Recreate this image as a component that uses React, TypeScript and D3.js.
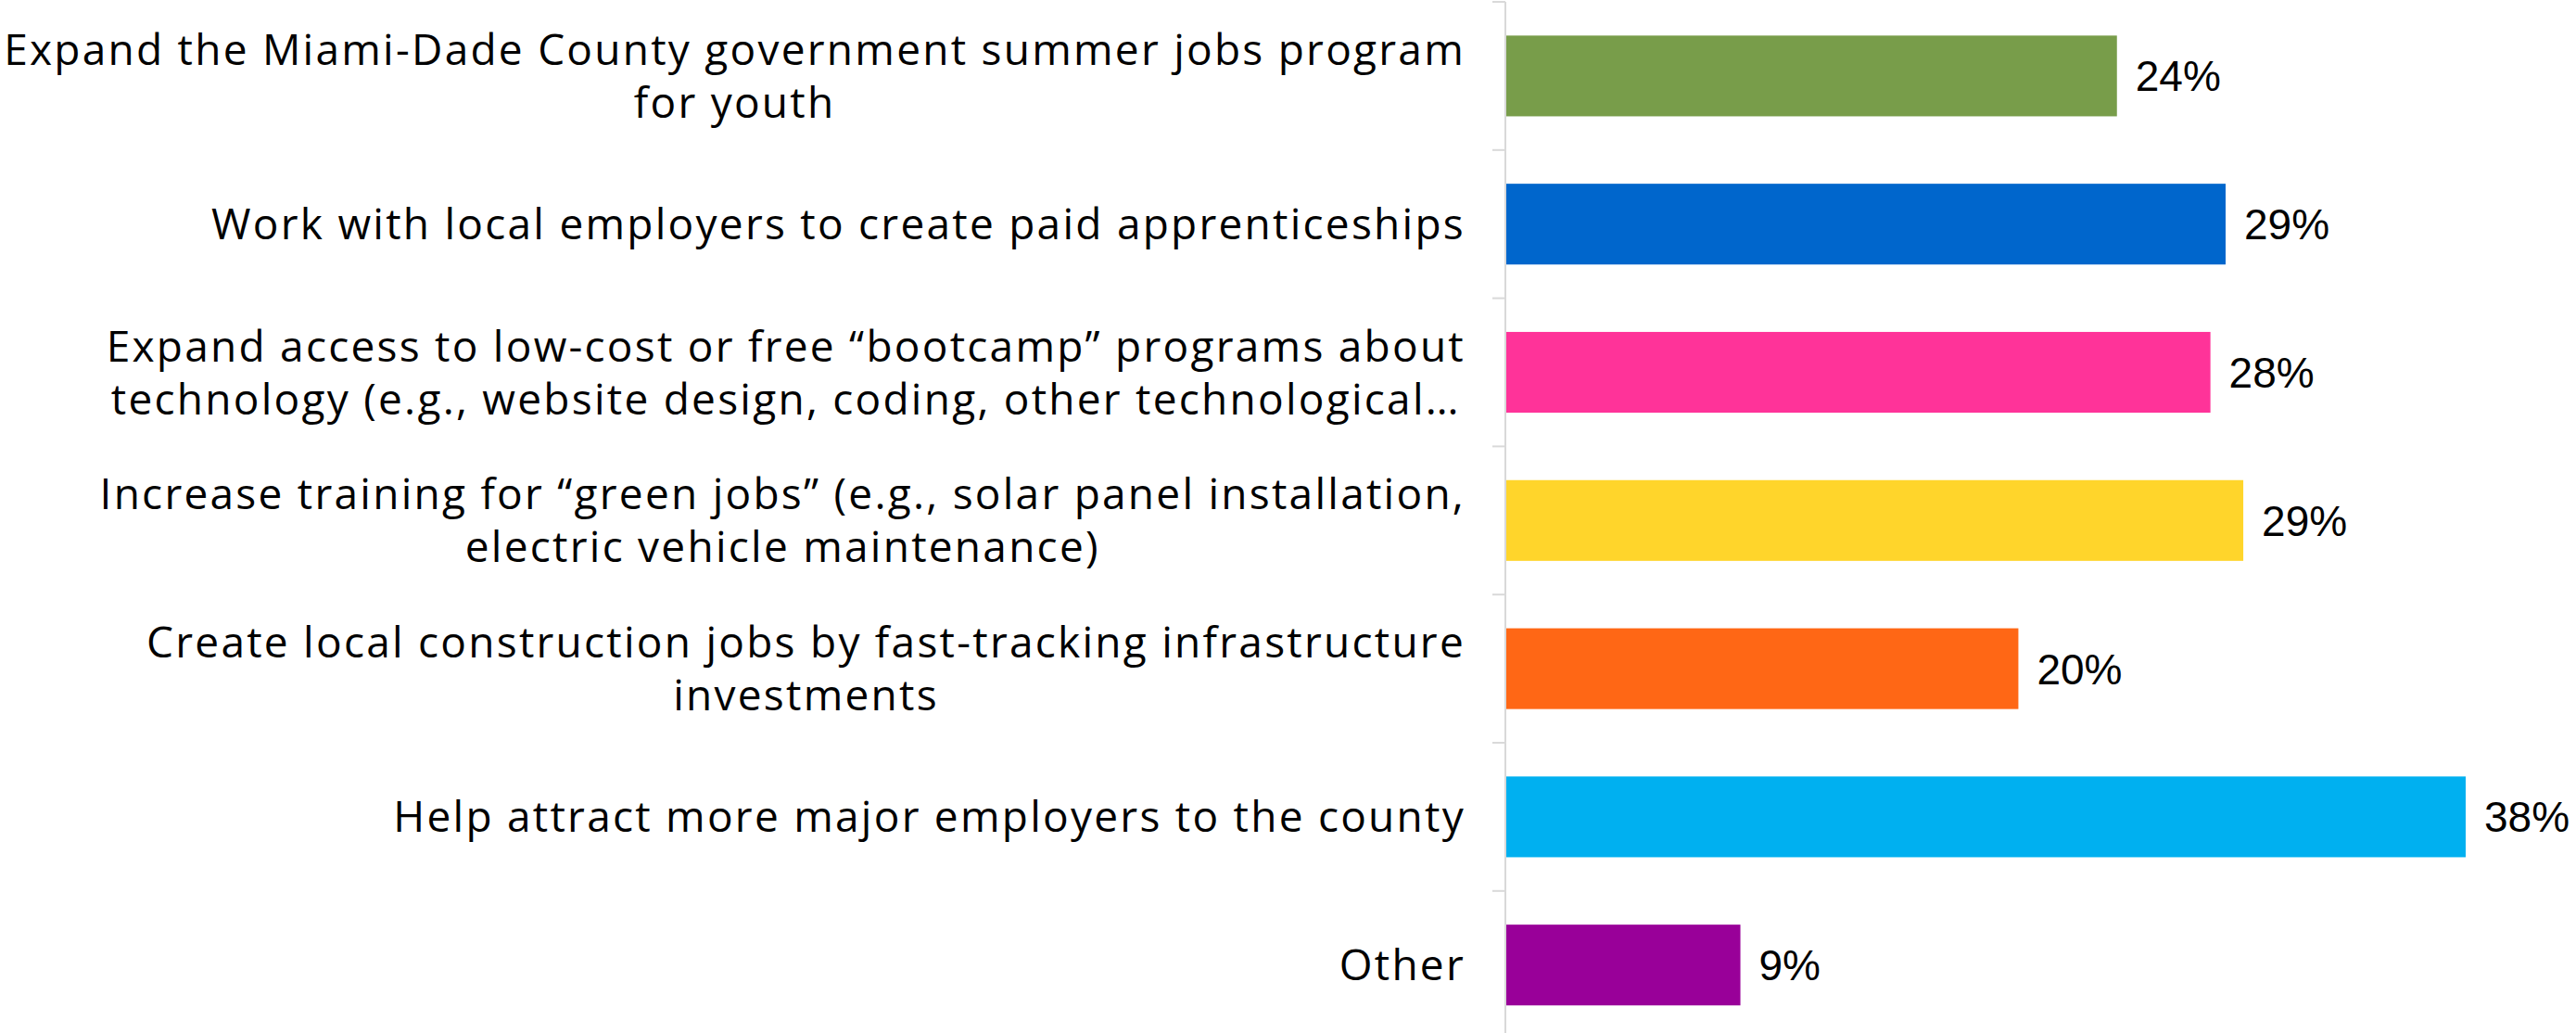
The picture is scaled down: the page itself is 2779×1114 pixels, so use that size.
import { useEffect, useRef } from 'react';
import { scaleBand, scaleLinear, select } from 'd3';

// Answer options (line breaks follow the original wrapping)
const categories = [
  'Expand the Miami-Dade County government summer jobs program\nfor youth',
  'Work with local employers to create paid apprenticeships',
  'Expand access to low-cost or free \u201cbootcamp\u201d programs about\ntechnology (e.g., website design, coding, other technological\u2026',
  'Increase training for \u201cgreen jobs\u201d (e.g., solar panel installation,\nelectric vehicle maintenance)',
  'Create local construction jobs by fast-tracking infrastructure\ninvestments',
  'Help attract more major employers to the county',
  'Other',
];

const values = [0.242, 0.285, 0.279, 0.292, 0.203, 0.38, 0.093];
const valueLabels = ['24%', '29%', '28%', '29%', '20%', '38%', '9%'];
const barColors = ['#789D4A', '#0066CC', '#FF3399', '#FFD52B', '#FF6715', '#00B0F0', '#990099'];

export default function App() {
  const svgRef = useRef<SVGSVGElement>(null);

  useEffect(() => {
    if (!svgRef.current) return;
    const svg = select(svgRef.current);
    svg.selectAll('*').remove();

    const width = 2779;
    const height = 1114;
    const axisX = 1624;
    const top = 2;
    const step = 159.8;
    const labelRight = 1581;
    const lineHeight = 57;

    const yOuter = scaleBand<string>()
      .domain(categories)
      .range([top, top + step * categories.length]);

    const yBar = scaleBand<string>()
      .domain(categories)
      .range([top, top + step * categories.length])
      .paddingInner(0.455)
      .paddingOuter(0.2275);

    const xScale = scaleLinear().domain([0, 0.4]).range([axisX, axisX + 1090.5]);

    svg.attr('width', width).attr('height', height);

    // Bars
    svg.selectAll('.bar')
      .data(categories)
      .enter()
      .append('rect')
      .attr('class', 'bar')
      .attr('x', xScale(0))
      .attr('y', (d) => yBar(d) || 0)
      .attr('width', (_, i) => xScale(values[i]) - xScale(0))
      .attr('height', yBar.bandwidth())
      .attr('fill', (_, i) => barColors[i]);

    // Axis line + ticks at category boundaries
    const axis = svg.append('g').attr('stroke', '#D9D9D9').attr('stroke-width', 2);
    axis.append('line')
      .attr('x1', axisX).attr('x2', axisX)
      .attr('y1', top).attr('y2', height);
    const bounds = categories.map((c) => yOuter(c) || 0);
    axis.selectAll('.tick')
      .data(bounds)
      .enter()
      .append('line')
      .attr('x1', axisX - 14).attr('x2', axisX)
      .attr('y1', (d) => d).attr('y2', (d) => d);

    // Value labels
    svg.selectAll('.val')
      .data(categories)
      .enter()
      .append('text')
      .attr('x', (_, i) => xScale(values[i]) + 20)
      .attr('y', (d) => (yOuter(d) || 0) + step / 2)
      .attr('dy', '0.36em')
      .attr('font-family', 'Liberation Sans, Arial, sans-serif')
      .attr('font-size', 46)
      .attr('fill', '#000')
      .text((_, i) => valueLabels[i]);

    // Category labels: block right-aligned, lines centered within block
    categories.forEach((c) => {
      const lines = c.split('\n');
      const cy = (yOuter(c) || 0) + step / 2;
      const t = svg.append('text')
        .attr('font-family', 'Open Sans, sans-serif')
        .attr('font-size', 46)
        .attr('letter-spacing', 2.25)
        .attr('fill', '#000')
        .attr('text-anchor', 'middle');
      const spans = lines.map((line, j) =>
        t.append('tspan')
          .attr('y', cy - ((lines.length - 1) * lineHeight) / 2 + j * lineHeight)
          .attr('dy', '0.36em')
          .text(line)
      );
      const maxW = Math.max(...spans.map((s) => (s.node() as SVGTSpanElement).getComputedTextLength()));
      spans.forEach((s) => s.attr('x', labelRight - maxW / 2));
    });
  }, []);

  return (
    <svg
      ref={svgRef}
      style={{ position: 'absolute', left: 0, top: 0, background: '#fff' }}
    />
  );
}
